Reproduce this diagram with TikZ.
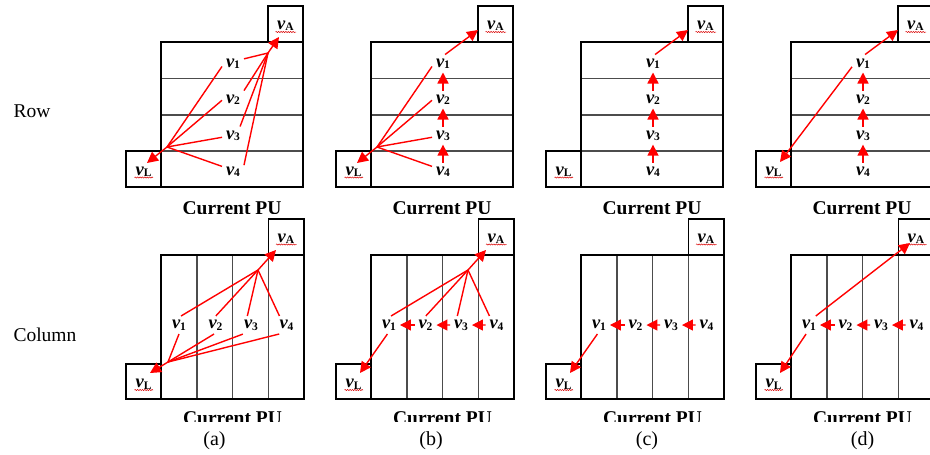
\documentclass[tikz,border=0pt]{standalone}
\usepackage{fontspec}
\setmainfont{Liberation Serif}
\usetikzlibrary{arrows.meta,decorations.pathmorphing}

% vertex label: bold italic v with an upright bold subscript
\newcommand\vsub[1]{{\fontsize{18.5}{18.5}\selectfont\bfseries\itshape v}\raisebox{-1.5pt}{\fontsize{11.5}{11.5}\selectfont\bfseries #1}}

\tikzset{
  pu/.style={line width=1.8pt, black},
  cell/.style={line width=1.5pt, black!70},
  endbox/.style={line width=1.4pt, black},
  vlab/.style={anchor=base, inner sep=1pt, outer sep=3pt},
  flow/.style={red, line width=1.4pt},
  flowtip/.style={flow, -{Triangle[length=11pt,width=11pt]}},
  squig/.style={red!85!black, line width=0.5pt, decorate,
    decoration={snake, amplitude=0.6pt, segment length=2.4pt}},
  puname/.style={anchor=base, font=\fontsize{19.5}{20}\selectfont\bfseries},
  side/.style={anchor=base west, font=\fontsize{19.5}{20}\selectfont},
  caption/.style={anchor=base, font=\fontsize{20}{20}\selectfont},
  % prediction unit split into four rows
  rowpu/.pic={
    \foreach \yy in {78.5,115,151} \draw[cell] (161,\yy) -- (303,\yy);
    \draw[endbox] (268,6) rectangle (303,42);
    \draw[endbox] (126,151) rectangle (161,187);
    \draw[pu] (161,42) rectangle (303,187);
    \node[vlab] (-vA) at (285.5,29.5) {\vsub{A}};
    \node[vlab] (-vL) at (143.5,175) {\vsub{L}};
    \draw[squig] (275.5,32) -- (296,32);
    \draw[squig] (134.5,177.5) -- (153,177.5);
    \node[vlab] (-v1) at (233,67) {\vsub{1}};
    \node[vlab] (-v2) at (233,103) {\vsub{2}};
    \node[vlab] (-v3) at (233,139) {\vsub{3}};
    \node[vlab] (-v4) at (233,175) {\vsub{4}};
    \coordinate (-hl) at (167,147);
    \coordinate (-tl) at (147,163);
    \coordinate (-ha) at (268,53);
    \coordinate (-ta) at (279,37);
    \coordinate (-ta2) at (268,30);
    \coordinate (-tl2) at (150,162);
    \begin{scope}
      \clip (150,190) rectangle (320,213.5);
      \node[puname] (-cap) at (232,214) {Current PU};
    \end{scope}
  },
  % prediction unit split into four columns
  colpu/.pic={
    \foreach \xx in {196.75,232.5,268.25} \draw[cell] (\xx,255) -- (\xx,399);
    \draw[endbox] (268.25,219) rectangle (304,255);
    \draw[endbox] (126,364) rectangle (161,399);
    \draw[pu] (161,255) rectangle (304,399);
    \node[vlab] (-vA) at (286,242) {\vsub{A}};
    \node[vlab] (-vL) at (143.5,387.5) {\vsub{L}};
    \draw[squig] (276,244.5) -- (296.5,244.5);
    \draw[squig] (134.5,390) -- (153,390);
    \node[vlab] (-v1) at (179,328.5) {\vsub{1}};
    \node[vlab] (-v2) at (215.5,328.5) {\vsub{2}};
    \node[vlab] (-v3) at (251,328.5) {\vsub{3}};
    \node[vlab] (-v4) at (286.5,328.5) {\vsub{4}};
    \coordinate (-hl) at (168,362);
    \coordinate (-tl) at (150,373);
    \coordinate (-ha) at (258,270);
    \coordinate (-ta) at (276,250);
    \coordinate (-ta2) at (280,243);
    \begin{scope}
      \clip (150,400) rectangle (320,421.7);
      \node[puname] (-cap) at (232.5,424.6) {Current PU};
    \end{scope}
  },
}

\begin{document}
\begin{tikzpicture}[x=1pt,y=-1pt]
  \useasboundingbox (0,0) rectangle (930,455);
  \clip (0,0) rectangle (930,455);

  \node[side] (rowname) at (10,117) {Row};
  \node[side] (colname) at (10,341.5) {Column};

  \pic (ra) at (0,0) {rowpu};
  \pic (rb) at (210,0) {rowpu};
  \pic (rc) at (420,0) {rowpu};
  \pic (rd) at (630,0) {rowpu};

  \pic (ca) at (0,0) {colpu};
  \pic (cb) at (210,0) {colpu};
  \pic (cc) at (420,0) {colpu};
  \pic (cd) at (630,0) {colpu};

  % ---- row split ----
  % (a)
  \foreach \n/\ang in {1/195,2/184,3/189,4/155} \draw[flow] (ra-v\n.\ang) -- (ra-hl);
  \draw[flowtip] (ra-hl) -- (ra-tl);
  \foreach \n/\ang in {1/23,2/39,3/52,4/30} \draw[flow] (ra-v\n.\ang) -- (ra-ha);
  \draw[flowtip] (ra-ha) -- (ra-ta);
  % (b)
  \foreach \n/\ang in {1/195,2/184,3/189,4/155} \draw[flow] (rb-v\n.\ang) -- (rb-hl);
  \draw[flowtip] (rb-hl) -- (rb-tl);
  \draw[flowtip] (rb-v1.77) -- (rb-ta2);
  \foreach \a/\b in {2/1,3/2,4/3} \draw[flowtip] (rb-v\a.north) -- (rb-v\b.south);
  % (c)
  \draw[flowtip] (rc-v1.77) -- (rc-ta2);
  \foreach \a/\b in {2/1,3/2,4/3} \draw[flowtip] (rc-v\a.north) -- (rc-v\b.south);
  % (d)
  \draw[flowtip] (rd-v1.77) -- (rd-ta2);
  \draw[flowtip] (rd-v1.197) -- (rd-tl2);
  \foreach \a/\b in {2/1,3/2,4/3} \draw[flowtip] (rd-v\a.north) -- (rd-v\b.south);

  % ---- column split ----
  % (a)
  \foreach \n/\ang in {1/77,2/88,3/112,4/128} \draw[flow] (ca-v\n.\ang) -- (ca-ha);
  \draw[flowtip] (ca-ha) -- (ca-ta);
  \foreach \n/\ang in {1/270,2/261,3/228,4/231} \draw[flow] (ca-v\n.\ang) -- (ca-hl);
  \draw[flowtip] (ca-hl) -- (ca-tl);
  % (b)
  \foreach \n/\ang in {1/77,2/88,3/112,4/128} \draw[flow] (cb-v\n.\ang) -- (cb-ha);
  \draw[flowtip] (cb-ha) -- (cb-ta);
  \draw[flowtip] (cb-v1.260) -- (cb-tl);
  \foreach \a/\b in {2/1,3/2,4/3} \draw[flowtip] (cb-v\a) -- (cb-v\b);
  % (c)
  \draw[flowtip] (cc-v1.260) -- (cc-tl);
  \foreach \a/\b in {2/1,3/2,4/3} \draw[flowtip] (cc-v\a) -- (cc-v\b);
  % (d)
  \draw[flowtip] (cd-v1.53) -- (cd-ta2);
  \draw[flowtip] (cd-v1.252) -- (cd-tl);
  \foreach \a/\b in {2/1,3/2,4/3} \draw[flowtip] (cd-v\a) -- (cd-v\b);

  % sub-figure captions
  \node[caption] (capa) at (214.5,445.7) {(a)};
  \node[caption] (capb) at (431,445.7) {(b)};
  \node[caption] (capc) at (647,445.7) {(c)};
  \node[caption] (capd) at (862.5,445.7) {(d)};
\end{tikzpicture}
\end{document}
